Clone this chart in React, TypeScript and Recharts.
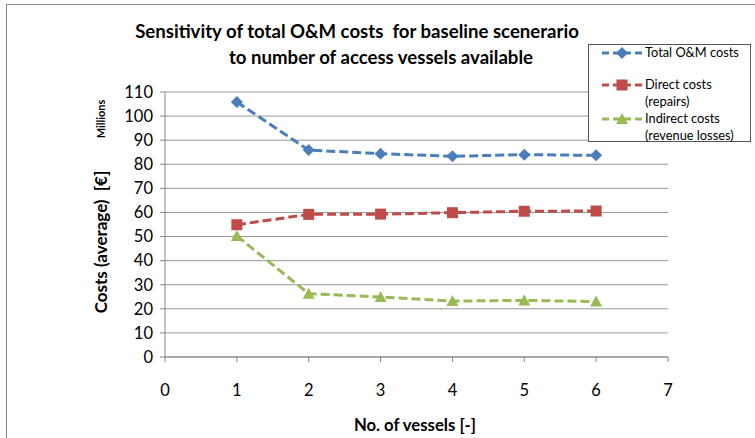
import React from "react";
import { LineChart, Line, XAxis, YAxis, CartesianGrid } from "recharts";

const vessels = [1, 2, 3, 4, 5, 6];
const totalCosts = [105.8, 85.9, 84.4, 83.3, 84.0, 83.7];
const directCosts = [54.9, 59.2, 59.3, 59.9, 60.5, 60.6];
const indirectCosts = [50.2, 26.3, 24.9, 23.2, 23.5, 23.0];
const xTicks = [0, 1, 2, 3, 4, 5, 6, 7];
const yTicks = [0, 10, 20, 30, 40, 50, 60, 70, 80, 90, 100, 110];

const BLUE = "#4a7ebb";
const RED = "#be4b48";
const GREEN = "#98b954";
const FONT = "Lato, sans-serif";

const data = vessels.map((v, i) => ({
  v,
  total: totalCosts[i],
  direct: directCosts[i],
  indirect: indirectCosts[i],
}));

const Diamond = (props: any) => {
  const { cx, cy, index } = props;
  return <path key={`d-${index}`} d={`M${cx},${cy - 6}L${cx + 6},${cy}L${cx},${cy + 6}L${cx - 6},${cy}Z`} fill={BLUE} />;
};
const Square = (props: any) => {
  const { cx, cy, index } = props;
  return <rect key={`s-${index}`} x={cx - 5.5} y={cy - 5.5} width={11} height={11} fill={RED} />;
};
const Triangle = (props: any) => {
  const { cx, cy, index } = props;
  return <path key={`t-${index}`} d={`M${cx},${cy - 6}L${cx + 6},${cy + 5}L${cx - 6},${cy + 5}Z`} fill={GREEN} />;
};

function LegendRow({ color, marker, lines, top }: { color: string; marker: string; lines: string[]; top: number }) {
  return (
    <div style={{ position: "absolute", left: 12, top, display: "flex" }}>
      <svg width={42} height={14} style={{ marginTop: 2 }}>
        <line x1={1} y1={7} x2={41} y2={7} stroke={color} strokeWidth={3} strokeDasharray="7 4" />
        {marker === "d" && <path d="M21,1L27,7L21,13L15,7Z" fill={color} />}
        {marker === "s" && <rect x={15.5} y={1.5} width={11} height={11} fill={color} />}
        {marker === "t" && <path d="M21,1L27,12L15,12Z" fill={color} />}
      </svg>
      <div style={{ marginLeft: 2, fontSize: 12.8, lineHeight: "17px", color: "#000", whiteSpace: "nowrap" }}>
        {lines.map((l) => (
          <div key={l}>{l}</div>
        ))}
      </div>
    </div>
  );
}

export default function App() {
  return (
    <div style={{ position: "absolute", left: 0, top: 0, width: 755, height: 438, background: "#fff", overflow: "hidden", fontFamily: FONT }}>
      <div style={{ position: "absolute", left: 6, top: 4, width: 800, height: 500, borderLeft: "1px solid #8a8a8a", borderTop: "1px solid #8a8a8a" }} />
      <div style={{ position: "absolute", left: 0, top: 20, width: 714, textAlign: "center", fontWeight: "bold", fontSize: 18.6, lineHeight: "23px", whiteSpace: "nowrap" }}>
        Sensitivity of total O&amp;M costs &nbsp;for baseline scenerario
      </div>
      <div style={{ position: "absolute", left: 0, top: 46, width: 762, textAlign: "center", fontWeight: "bold", fontSize: 18.6, lineHeight: "23px", whiteSpace: "nowrap" }}>
        to number of access vessels available
      </div>
      <LineChart width={755} height={438} data={data} margin={{ top: 92, right: 87, bottom: 51, left: 100 }} style={{ position: "absolute", left: 0, top: 0 }}>
        <CartesianGrid vertical={false} stroke="#999" strokeWidth={1} />
        <XAxis
          dataKey="v"
          type="number"
          domain={[0, 7]}
          ticks={xTicks}
          interval={0}
          height={30}
          stroke="#868686"
          tickSize={5}
          tick={{ fill: "#000", fontSize: 16.5, fontFamily: FONT, dy: 20 }}
        />
        <YAxis
          domain={[0, 110]}
          ticks={yTicks}
          interval={0}
          width={65}
          stroke="#868686"
          tickSize={5}
          tick={{ fill: "#000", fontSize: 16.5, fontFamily: FONT, dx: -5 }}
        />
        <Line dataKey="total" stroke={BLUE} strokeWidth={3} strokeDasharray="9 4" dot={Diamond} isAnimationActive={false} />
        <Line dataKey="direct" stroke={RED} strokeWidth={3} strokeDasharray="9 4" dot={Square} isAnimationActive={false} />
        <Line dataKey="indirect" stroke={GREEN} strokeWidth={3} strokeDasharray="9 4" dot={Triangle} isAnimationActive={false} />
      </LineChart>
      <div style={{ position: "absolute", left: 100, top: 242, transform: "translate(-50%,-50%) rotate(-90deg)", whiteSpace: "nowrap", fontWeight: "bold", fontSize: 17 }}>
        Costs (average) &nbsp;[€]
      </div>
      <div style={{ position: "absolute", left: 100, top: 119, transform: "translate(-50%,-50%) rotate(-90deg)", whiteSpace: "nowrap", fontWeight: "bold", fontSize: 11 }}>
        Millions
      </div>
      <div style={{ position: "absolute", left: 0, top: 414, width: 830, textAlign: "center", fontWeight: "bold", fontSize: 16.7, lineHeight: "22px" }}>
        No. of vessels [-]
      </div>
      <div style={{ position: "absolute", left: 588, top: 44, width: 161, height: 96, border: "1px solid #555", background: "#fff" }}>
        <LegendRow color={BLUE} marker="d" lines={["Total O&M costs"]} top={-1} />
        <LegendRow color={RED} marker="s" lines={["Direct costs", "(repairs)"]} top={31} />
        <LegendRow color={GREEN} marker="t" lines={["Indirect costs", "(revenue losses)"]} top={65} />
      </div>
    </div>
  );
}
